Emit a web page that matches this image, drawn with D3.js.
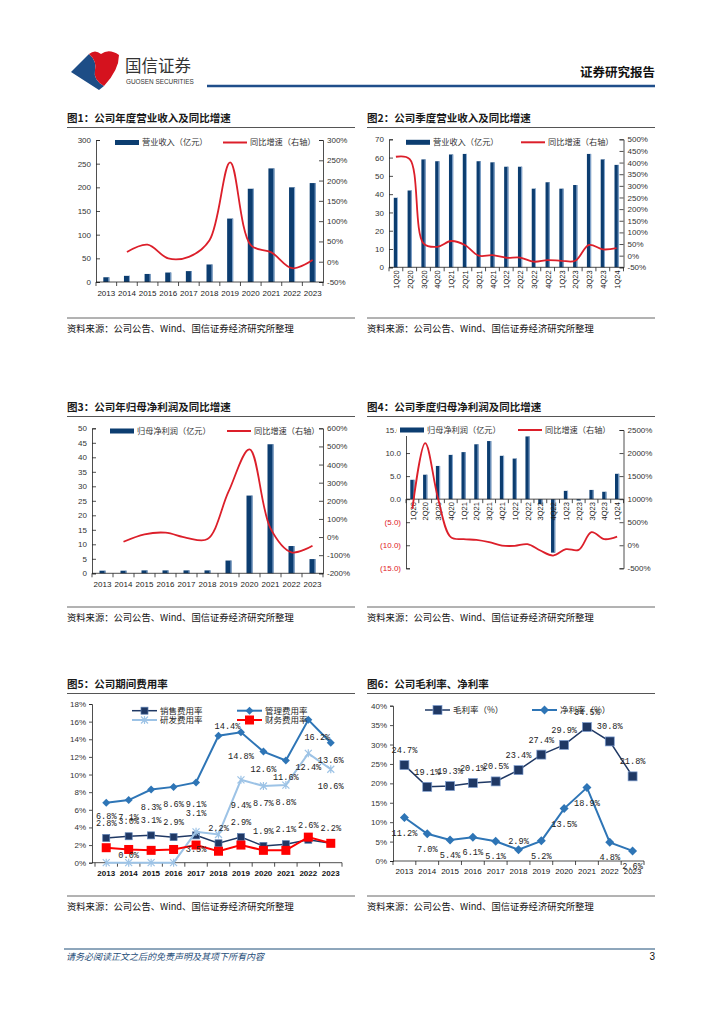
<!DOCTYPE html>
<html>
<head>
<meta charset="utf-8">
<script src="https://cdn.jsdelivr.net/npm/d3@7"></script>
<style>
body { margin: 0; background: #fff; }
svg { display: block; }
text { font-family: "Liberation Sans", Arial, sans-serif; }
.cn { font-family: "Noto Sans CJK SC", sans-serif; }
.mono { font-family: "Liberation Mono", "DejaVu Sans Mono", monospace; }
</style>
</head>
<body>
<svg id="page" width="724" height="1024"></svg>
<script>
// ---- data ----
const years = ['2013', '2014', '2015', '2016', '2017', '2018', '2019', '2020', '2021', '2022', '2023'];
const quarters = ['1Q20', '2Q20', '3Q20', '4Q20', '1Q21', '2Q21', '3Q21', '4Q21', '1Q22', '2Q22',
                  '3Q22', '4Q22', '1Q23', '2Q23', '3Q23', '4Q23', '1Q24'];

// fig 1: annual revenue (100m yuan) and yoy %
const revenueYear = [10, 13, 17, 20, 23, 37, 134, 197, 240, 200, 209];
const revenueYearYoY = [null, 24, 42, 8, 12, 53, 245, 41, 23, -16, 4];

// fig 2: quarterly revenue and yoy %
const revenueQtr = [38, 42, 59, 58, 61.7, 62, 58, 57.4, 55, 55, 43, 46.5, 43, 45, 62, 59, 56];
const revenueQtrYoY = [425, 415, 53, 38, 63, 46, 0, 2, -9, -8, -26, -19, -22, -22, 46, 27, 32];

// fig 3: annual net profit attributable and yoy %
const profitYear = [0.9, 0.9, 1.0, 1.0, 1.0, 1.0, 4.4, 26.8, 44.5, 9.4, 4.9];
const profitYearYoY = [null, -26, 15, 24, -4, -11, 250, 484, 48, -84, -48];

// fig 4: quarterly net profit attributable and yoy %
const profitQtr = [4.2, 5.3, 7.2, 9.6, 10.2, 11.9, 12.6, 9.4, 8.8, 13.6, -1.1, -11.6, 1.8, -0.3, 2.0, 1.6, 5.5];
const profitQtrYoY = [790, 2215, 1020, 176, 132, 117, 67, -7, -13, 24, -115, -223, -85, -100, 284, 132, 189];

// fig 5: expense ratios %
const sellingRate = [2.8, 3.0, 3.1, 2.9, 3.1, 2.2, 2.9, 1.9, 2.1, 2.6, 2.2];
const adminRate = [6.8, 7.1, 8.3, 8.6, 9.1, 14.4, 14.8, 12.6, 11.6, 16.2, 13.6];
const rdRate = [0.0, 0.0, 0.0, 0.0, 3.5, 3.2, 9.4, 8.7, 8.8, 12.4, 10.6];
const financeRate = [1.7, 1.5, 1.4, 1.5, 2.0, 1.3, 2.0, 1.4, 1.4, 2.9, 2.2];

// fig 6: margins %
const grossMargin = [24.7, 19.1, 19.3, 20.1, 20.5, 23.4, 27.4, 29.9, 34.5, 30.8, 21.8];
const netMargin = [11.2, 7.0, 5.4, 6.1, 5.1, 2.9, 5.2, 13.5, 18.9, 4.8, 2.6];

const NAVY = '#0c3d70', RED = '#dc1f2a';
const page = d3.select('#page');

function styleAxis(g) {
    g.attr('font-family', '"Liberation Sans", Arial, sans-serif').attr('font-size', 8);
    g.selectAll('.domain, .tick line').attr('stroke', '#222').attr('stroke-width', 0.8);
    g.selectAll('text').attr('fill', '#333');
}

// title, rule lines and source note of one panel
function frame(x, title, yTitle, ySource) {
    page.append('text').attr('class', 'cn').attr('x', x).attr('y', yTitle)
        .attr('font-size', 10.5).attr('font-weight', 'bold').attr('fill', '#1a1a1a').text(title);
    page.append('line').attr('x1', x).attr('x2', x + 288).attr('y1', yTitle + 5.5).attr('y2', yTitle + 5.5)
        .attr('stroke', '#555').attr('stroke-width', 1.1);
    page.append('line').attr('x1', x).attr('x2', x + 288).attr('y1', ySource - 14).attr('y2', ySource - 14)
        .attr('stroke', '#555').attr('stroke-width', 0.9);
    page.append('text').attr('class', 'cn').attr('x', x).attr('y', ySource)
        .attr('font-size', 9.3).attr('fill', '#111').text('资料来源：公司公告、Wind、国信证券经济研究所整理');
}

// bars on the left axis, smoothed growth line on the right axis
function barLine() {
    let cats, bars, growth, box, leftDomain, rightDomain, leftTicks, rightTicks,
        leftFormat = d => d, barWidth = 6, rotate = false, legend;

    function my(g) {
        const x = d3.scaleBand().domain(cats).range([box.x0, box.x1]);
        const yL = d3.scaleLinear().domain(leftDomain).range([box.y1, box.y0]);
        const yR = d3.scaleLinear().domain(rightDomain).range([box.y1, box.y0]);
        const base = yL(0);
        const xc = c => x(c) + x.bandwidth() / 2;
        const rows = cats.map((c, i) => ({c: c, v: bars[i], g: growth[i]}));

        g.selectAll('rect.bar').data(rows).enter().append('rect')
            .attr('x', d => xc(d.c) - barWidth / 2)
            .attr('y', d => Math.min(yL(d.v), base))
            .attr('width', barWidth)
            .attr('height', d => Math.abs(yL(d.v) - base))
            .attr('fill', NAVY);
        g.selectAll('rect.edge').data(rows).enter().append('rect')
            .attr('x', d => xc(d.c) + barWidth / 2 - 1)
            .attr('y', d => Math.min(yL(d.v), base))
            .attr('width', 1)
            .attr('height', d => Math.abs(yL(d.v) - base))
            .attr('fill', '#8eaed4');

        const la = g.append('g').attr('transform', `translate(${box.x0},0)`)
            .call(d3.axisLeft(yL).tickValues(leftTicks).tickSize(-4).tickPadding(5).tickFormat(leftFormat))
            .call(styleAxis);
        la.selectAll('text').attr('fill', d => d < 0 ? '#e0201f' : '#333');
        g.append('g').attr('transform', `translate(${box.x1},0)`)
            .call(d3.axisRight(yR).tickValues(rightTicks).tickSize(-4).tickPadding(4).tickFormat(d => d + '%'))
            .call(styleAxis);

        // category axis on the zero line
        g.append('line').attr('x1', box.x0).attr('x2', box.x1).attr('y1', base).attr('y2', base)
            .attr('stroke', '#222').attr('stroke-width', 0.8);
        g.selectAll('line.ctick').data(d3.range(cats.length + 1)).enter().append('line')
            .attr('x1', i => box.x0 + i * x.step()).attr('x2', i => box.x0 + i * x.step())
            .attr('y1', base).attr('y2', base + 4)
            .attr('stroke', '#222').attr('stroke-width', 0.8);
        const labels = g.selectAll('text.cat').data(cats).enter().append('text')
            .attr('font-size', rotate ? 7.5 : 8).attr('fill', '#222').text(d => d);
        if (rotate) {
            labels.attr('transform', d => `translate(${xc(d) + 0.5},${base + 3}) rotate(-90)`)
                .attr('text-anchor', 'end').attr('dy', '0.35em')
                .style('text-rendering', 'geometricPrecision');
        } else {
            labels.attr('x', xc).attr('y', base + 13.5).attr('text-anchor', 'middle');
        }

        const pts = rows.filter(d => d.g != null);
        g.append('path').datum(pts)
            .attr('d', d3.line().x(d => xc(d.c)).y(d => yR(d.g)).curve(d3.curveCatmullRom))
            .attr('fill', 'none').attr('stroke', RED).attr('stroke-width', 1.8);

        // legend
        if (legend.mask) {
            g.append('rect').attr('x', legend.mask).attr('y', legend.y - 6).attr('width', legend.x2 - legend.mask + 70)
                .attr('height', 12).attr('fill', '#fff');
        }
        g.append('rect').attr('x', legend.x1).attr('y', legend.y - 2.5).attr('width', 24).attr('height', 5).attr('fill', NAVY);
        g.append('text').attr('class', 'cn').attr('x', legend.x1 + 27).attr('y', legend.y).attr('dy', '0.35em')
            .attr('font-size', 8.2).attr('fill', '#333').text(legend.bar);
        g.append('line').attr('x1', legend.x2).attr('x2', legend.x2 + 24).attr('y1', legend.y).attr('y2', legend.y)
            .attr('stroke', RED).attr('stroke-width', 2);
        g.append('text').attr('class', 'cn').attr('x', legend.x2 + 27).attr('y', legend.y).attr('dy', '0.35em')
            .attr('font-size', 8.2).attr('fill', '#333').text('同比增速（右轴）');
    }

    my.cats = function(value) { cats = value; return my; };
    my.bars = function(value) { bars = value; return my; };
    my.growth = function(value) { growth = value; return my; };
    my.box = function(value) { box = value; return my; };
    my.left = function(domain, ticks, fmt) { leftDomain = domain; leftTicks = ticks; if (fmt) leftFormat = fmt; return my; };
    my.right = function(domain, ticks) { rightDomain = domain; rightTicks = ticks; return my; };
    my.barWidth = function(value) { barWidth = value; return my; };
    my.rotate = function(value) { rotate = value; return my; };
    my.legend = function(value) { legend = value; return my; };
    return my;
}

function drawMarker(g, type, s, fill, stroke) {
    if (type === 'square') {
        g.append('rect').attr('x', -s / 2).attr('y', -s / 2).attr('width', s).attr('height', s)
            .attr('fill', fill).attr('stroke', stroke).attr('stroke-width', 0.7);
    } else if (type === 'diamond') {
        g.append('path').attr('d', `M0,${-s}L${s},0L0,${s}L${-s},0Z`).attr('fill', fill);
    } else {
        g.append('path').attr('d', `M${-s},${-s}L${s},${s}M${-s},${s}L${s},${-s}M0,${-s - 0.5}L0,${s + 0.5}`)
            .attr('stroke', fill).attr('stroke-width', 1.2).attr('fill', 'none');
    }
}

// straight line series with markers and data labels
function lineChart() {
    let cats, series, box, yDomain, yTicks, legendItems;

    function my(g) {
        const x = d3.scaleBand().domain(cats).range([box.x0, box.x1]);
        const y = d3.scaleLinear().domain(yDomain).range([box.y1, box.y0]);
        const xc = c => x(c) + x.bandwidth() / 2;

        g.append('g').attr('transform', `translate(${box.ax},0)`)
            .call(d3.axisLeft(y).tickValues(yTicks).tickSize(3).tickPadding(3).tickFormat(d => d + '%'))
            .call(styleAxis);
        g.append('line').attr('x1', box.ax).attr('x2', box.x1).attr('y1', box.y1).attr('y2', box.y1)
            .attr('stroke', '#222').attr('stroke-width', 0.8);
        g.selectAll('line.ctick').data(d3.range(cats.length + 1)).enter().append('line')
            .attr('x1', i => box.x0 + i * x.step()).attr('x2', i => box.x0 + i * x.step())
            .attr('y1', box.y1).attr('y2', box.y1 + 4).attr('stroke', '#222').attr('stroke-width', 0.8);
        g.selectAll('text.cat').data(cats).enter().append('text')
            .attr('x', xc).attr('y', box.y1 + 13).attr('text-anchor', 'middle')
            .attr('font-size', 8).attr('font-weight', box.boldCats ? 'bold' : 'normal').attr('fill', '#111')
            .text(d => d);

        series.forEach(function(s) {
            const pts = cats.map((c, i) => ({c: c, v: s.values[i], i: i}));
            g.append('path').datum(pts)
                .attr('d', d3.line().x(d => xc(d.c)).y(d => y(d.v)))
                .attr('fill', 'none').attr('stroke', s.color).attr('stroke-width', s.width);
            pts.forEach(function(d) {
                drawMarker(g.append('g').attr('transform', `translate(${xc(d.c)},${y(d.v)})`),
                    s.marker, s.size, s.fill || s.color, s.stroke || 'none');
            });
        });
        series.forEach(function(s) {
            if (!s.labelDy) return;
            cats.forEach(function(c, i) {
                if (s.hide && s.hide.indexOf(i) >= 0) return;
                const dy = (s.nudge && s.nudge[i] !== undefined) ? s.nudge[i] : s.labelDy;
                const dx = (s.shift && s.shift[i] !== undefined) ? s.shift[i] : 0;
                g.append('text').attr('class', 'mono')
                    .attr('x', xc(c) + dx).attr('y', y(s.values[i]) + dy).attr('dy', '0.35em')
                    .attr('text-anchor', 'middle').attr('font-size', 8.6).attr('fill', '#222')
                    .text(s.values[i].toFixed(1) + '%');
            });
        });

        legendItems.forEach(function(it) {
            const s = series[it.k];
            g.append('line').attr('x1', it.x).attr('x2', it.x + 25).attr('y1', it.y).attr('y2', it.y)
                .attr('stroke', s.color).attr('stroke-width', s.width);
            drawMarker(g.append('g').attr('transform', `translate(${it.x + 12.5},${it.y})`),
                s.marker, s.size, s.fill || s.color, s.stroke || 'none');
            g.append('text').attr('class', 'cn').attr('x', it.x + 28).attr('y', it.y).attr('dy', '0.35em')
                .attr('font-size', 8.5).attr('fill', '#222').text(s.name);
        });
    }

    my.cats = function(value) { cats = value; return my; };
    my.series = function(value) { series = value; return my; };
    my.box = function(value) { box = value; return my; };
    my.y = function(domain, ticks) { yDomain = domain; yTicks = ticks; return my; };
    my.legend = function(value) { legendItems = value; return my; };
    return my;
}

// ---- page header ----
page.append('path').attr('d', 'M71,72 L89,54 Q97,61 95,70 Q93,80 104,86 L99,90 Z').attr('fill', '#1d4d86');
page.append('path').attr('d', 'M89,54 Q95,49 101,54 Q109,48 119,55 Q119,70 104,86 Q93,80 95,70 Q97,61 89,54 Z').attr('fill', '#d5121e');
page.append('text').attr('class', 'cn').attr('x', 125).attr('y', 72).attr('font-size', 16.5)
    .attr('fill', '#333').text('国信证券');
page.append('text').attr('x', 126).attr('y', 84).attr('font-size', 6.4).attr('fill', '#333')
    .text('GUOSEN SECURITIES');
page.append('line').attr('x1', 207).attr('x2', 655).attr('y1', 86).attr('y2', 86)
    .attr('stroke', '#1f4e8a').attr('stroke-width', 2.5);
page.append('text').attr('class', 'cn').attr('x', 655).attr('y', 77).attr('text-anchor', 'end')
    .attr('font-size', 12.5).attr('font-weight', 'bold').attr('fill', '#111').text('证券研究报告');

// ---- panels ----
frame(67, '图1：公司年度营业收入及同比增速', 122, 332);
frame(367, '图2：公司季度营业收入及同比增速', 122, 332);
frame(67, '图3：公司年归母净利润及同比增速', 411, 621);
frame(367, '图4：公司季度归母净利润及同比增速', 411, 621);
frame(67, '图5：公司期间费用率', 688, 910);
frame(367, '图6：公司毛利率、净利率', 688, 910);

page.append('g').call(barLine()
    .cats(years).bars(revenueYear).growth(revenueYearYoY)
    .box({x0: 96, x1: 323, y0: 140, y1: 282})
    .left([0, 300], d3.range(0, 301, 50))
    .right([-50, 300], d3.range(-50, 301, 50))
    .barWidth(6)
    .legend({y: 142.5, x1: 115, x2: 223, bar: '营业收入（亿元）'}));

page.append('g').call(barLine()
    .cats(quarters).bars(revenueQtr).growth(revenueQtrYoY)
    .box({x0: 389, x1: 623.5, y0: 139.3, y1: 267.3})
    .left([0, 70], d3.range(0, 71, 10))
    .right([-50, 500], d3.range(-50, 501, 50))
    .barWidth(4.2).rotate(true)
    .legend({y: 142.3, x1: 406, x2: 521, bar: '营业收入（亿元）'}));

page.append('g').call(barLine()
    .cats(years).bars(profitYear).growth(profitYearYoY)
    .box({x0: 92, x1: 323, y0: 428.3, y1: 573.3})
    .left([0, 50], d3.range(0, 51, 5))
    .right([-200, 600], d3.range(-200, 601, 100))
    .barWidth(6)
    .legend({y: 431, x1: 110, x2: 227, bar: '归母净利润（亿元）'}));

page.append('g').call(barLine()
    .cats(quarters).bars(profitQtr).growth(profitQtrYoY)
    .box({x0: 406, x1: 623.5, y0: 430, y1: 568.3})
    .left([-15, 15], d3.range(-15, 16, 5), d => d < 0 ? '(' + (-d).toFixed(1) + ')' : d.toFixed(1))
    .right([-500, 2500], d3.range(-500, 2501, 500))
    .barWidth(4.2).rotate(true)
    .legend({y: 430, x1: 400, x2: 518, mask: 397, bar: '归母净利润（亿元）'}));

page.append('g').call(lineChart()
    .cats(years)
    .box({ax: 92, x0: 95, x1: 342, y0: 704, y1: 862.7, boldCats: true})
    .y([0, 18], d3.range(0, 19, 2))
    .series([
        {name: '销售费用率', values: sellingRate, color: '#1f3864', width: 1.5, marker: 'square', size: 7,
         stroke: '#5a7db0', labelDy: -15, nudge: {4: -22}},
        {name: '管理费用率', values: adminRate, color: '#2e75b6', width: 2, marker: 'diamond', size: 4,
         labelDy: 17, nudge: {0: 13, 4: 22, 5: -10, 6: 24}, shift: {5: 9, 9: 9}},
        {name: '研发费用率', values: rdRate, color: '#9dc3e6', width: 2, marker: 'star', size: 3.5,
         labelDy: 17, nudge: {1: -8, 6: 25, 9: 14}, hide: [0, 2, 3, 5]},
        {name: '财务费用率', values: financeRate, color: '#ff0000', width: 2, marker: 'square', size: 9}
    ])
    .legend([{k: 0, x: 132, y: 710.7}, {k: 1, x: 237, y: 710.7}, {k: 2, x: 132, y: 720}, {k: 3, x: 237, y: 720}]));

page.append('g').call(lineChart()
    .cats(years)
    .box({ax: 393, x0: 393, x1: 644, y0: 705.7, y1: 861})
    .y([0, 40], d3.range(0, 41, 5))
    .series([
        {name: '毛利率（%）', values: grossMargin, color: '#1f3864', width: 1.5, marker: 'square', size: 9,
         stroke: '#7f9fd0', labelDy: -15},
        {name: '净利率（%）', values: netMargin, color: '#2e75b6', width: 2, marker: 'diamond', size: 4.5,
         labelDy: 15, nudge: {5: -9}}
    ])
    .legend([{k: 0, x: 425, y: 710}, {k: 1, x: 532, y: 710}]));

// ---- footer ----
page.append('line').attr('x1', 64).attr('x2', 655).attr('y1', 949).attr('y2', 949)
    .attr('stroke', '#1f4e79').attr('stroke-width', 1);
page.append('text').attr('class', 'cn').attr('x', 66).attr('y', 960).attr('font-size', 9)
    .attr('font-style', 'italic').attr('fill', '#1f4e79').text('请务必阅读正文之后的免责声明及其项下所有内容');
page.append('text').attr('x', 655).attr('y', 960).attr('text-anchor', 'end').attr('font-size', 10)
    .attr('fill', '#111').text('3');
</script>
</body>
</html>
